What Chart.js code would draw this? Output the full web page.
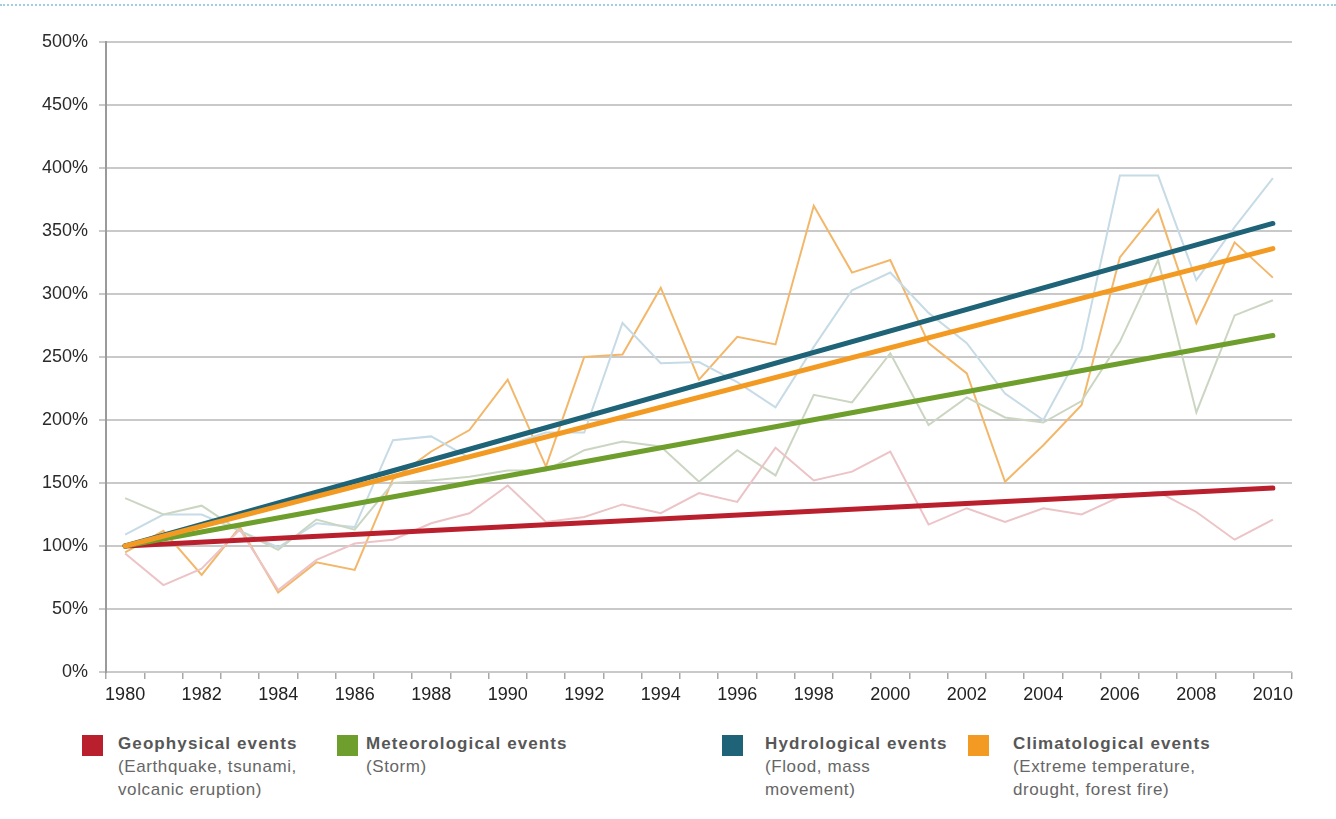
<!DOCTYPE html>
<html>
<head>
<meta charset="utf-8">
<script src="https://cdn.jsdelivr.net/npm/chart.js@4/dist/chart.umd.min.js"></script>
<style>
  html, body { margin: 0; padding: 0; background: #fff; }
  body { width: 1336px; height: 819px; position: relative; overflow: hidden; font-family: "Liberation Sans", Arial, sans-serif; }
  .dots { position: absolute; left: 0; top: 4px; width: 1336px; border-top: 2px dotted #9fcde2; }
  #wrap { position: absolute; left: 0; top: 0; width: 1336px; height: 714px; }
  .leg { position: absolute; top: 732px; color: #666; font-size: 17px; line-height: 23px; letter-spacing: 0.6px; }
  .leg b { color: #575757; letter-spacing: 1.1px; }
  .sq { position: absolute; top: 735px; width: 21px; height: 21px; }
</style>
</head>
<body>
<div class="dots"></div>
<div id="wrap"><canvas id="grafico"></canvas></div>

<div class="sq" style="left:82px;background:#b91f2c"></div>
<div class="leg" style="left:118px"><b>Geophysical events</b><br>(Earthquake, tsunami,<br>volcanic eruption)</div>
<div class="sq" style="left:337px;background:#6e9e2c"></div>
<div class="leg" style="left:366px"><b>Meteorological events</b><br>(Storm)</div>
<div class="sq" style="left:722px;background:#1e6377"></div>
<div class="leg" style="left:765px"><b>Hydrological events</b><br>(Flood, mass<br>movement)</div>
<div class="sq" style="left:968px;background:#f29a22"></div>
<div class="leg" style="left:1013px"><b>Climatological events</b><br>(Extreme temperature,<br>drought, forest fire)</div>

<script>
var anos = ['1980','1981','1982','1983','1984','1985','1986','1987','1988','1989','1990',
  '1991','1992','1993','1994','1995','1996','1997','1998','1999','2000',
  '2001','2002','2003','2004','2005','2006','2007','2008','2009','2010'];

// yearly values, % of 1980
var geofisico = [94,69,82,113,65,89,102,105,118,126,148,119,123,133,126,142,135,178,152,159,175,117,130,119,130,125,139,143,127,105,121];
var meteorologico = [138,125,132,112,97,121,113,150,152,155,160,160,176,183,179,151,176,156,220,214,253,196,218,202,198,215,262,327,206,283,295];
var hidrologico = [109,125,125,112,99,118,115,184,187,170,180,190,190,277,245,246,230,210,258,303,317,285,261,221,200,256,394,394,311,353,392];
var climatologico = [95,112,77,115,63,87,81,153,175,192,232,163,250,252,305,232,266,260,370,317,327,261,237,151,180,212,329,367,277,341,313];

// trend lines: value at 1980 and at 2010
var tendencia_anos = ['1980','2010'];
var tendencia_geo = [100,146];
var tendencia_met = [100,267];
var tendencia_hid = [100,356];
var tendencia_cli = [100,336];

var y_ticks = [0,50,100,150,200,250,300,350,400,450,500];

function pares(xs, ys){
  return xs.map(function(x, i){ return {x: x, y: ys[i]}; });
}

function fina(data, cor){
  return { data: data, borderColor: cor, borderWidth: 2, pointRadius: 0, tension: 0, order: 5 };
}
function grossa(data, cor, ordem){
  return { data: pares(tendencia_anos, data), borderColor: cor, borderWidth: 5, pointRadius: 0, borderCapStyle: 'round', order: ordem };
}

const ctx = document.getElementById('grafico').getContext('2d');
new Chart(ctx, {
  type: 'line',
  data: {
    labels: anos,
    datasets: [
      fina(geofisico, '#ecc3c6'),
      fina(meteorologico, '#cbd6c2'),
      fina(hidrologico, '#c6dbe6'),
      fina(climatologico, '#f3b76a'),
      grossa(tendencia_geo, '#b91f2c', 4),
      grossa(tendencia_met, '#6e9e2c', 3),
      grossa(tendencia_hid, '#1e6377', 2),
      grossa(tendencia_cli, '#f29a22', 1)
    ]
  },
  options: {
    responsive: true,
    maintainAspectRatio: false,
    animation: false,
    layout: { padding: { top: 42, right: 44, left: 0, bottom: 0 } },
    plugins: { legend: { display: false }, tooltip: { enabled: false } },
    scales: {
      x: {
        type: 'category',
        offset: true,
        grid: { offset: true, drawOnChartArea: false, drawTicks: true, tickLength: 7, color: '#a8a8a8', lineWidth: 1.5 },
        border: { display: false },
        ticks: {
          autoSkip: false, maxRotation: 0, padding: 5,
          color: '#222', font: { family: 'Liberation Sans', size: 18 },
          callback: function(v, i){ return i % 2 === 0 ? anos[i] : ''; }
        },
        afterFit: function(s){ s.height = 42; }
      },
      y: {
        min: 0, max: 500,
        afterBuildTicks: function(s){ s.ticks = y_ticks.map(function(v){ return {value: v}; }); },
        grid: { color: '#c9c9c9', lineWidth: 2, tickLength: 7 },
        border: { display: true, color: '#9a9a9a', width: 2 },
        ticks: {
          padding: 11, color: '#2a2a2a', font: { family: 'Liberation Sans', size: 18 },
          callback: function(v){ return v + '%'; }
        },
        afterFit: function(s){ s.width = 106; }
      }
    }
  }
});
</script>
</body>
</html>
